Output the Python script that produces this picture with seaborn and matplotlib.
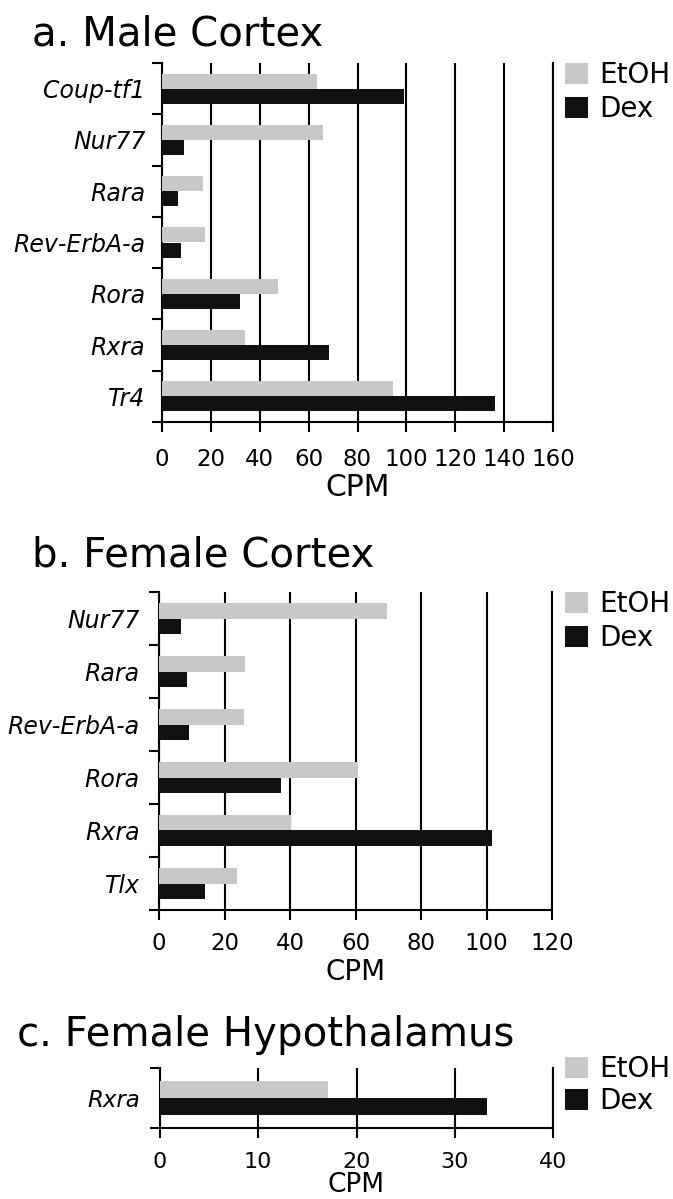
import numpy as np
import pandas as pd
import matplotlib
matplotlib.use("Agg")
import matplotlib.pyplot as plt
from matplotlib.ticker import FixedLocator
from matplotlib.patches import Patch
import seaborn as sns

# ---- data ----
treatments = ["EtOH", "Dex"]

genes_a = ["Coup-tf1", "Nur77", "Rara", "Rev-ErbA-a", "Rora", "Rxra", "Tr4"]
etoh_a = [63.4, 65.9, 16.8, 17.7, 47.4, 33.8, 94.7]
dex_a = [99.1, 9.2, 6.6, 7.6, 32.0, 68.3, 136.4]
ticks_a = [0, 20, 40, 60, 80, 100, 120, 140, 160]

genes_b = ["Nur77", "Rara", "Rev-ErbA-a", "Rora", "Rxra", "Tlx"]
etoh_b = [69.5, 26.4, 25.9, 60.7, 40.4, 23.9]
dex_b = [6.8, 8.7, 9.3, 37.1, 101.8, 13.9]
ticks_b = [0, 20, 40, 60, 80, 100, 120]

genes_c = ["Rxra"]
etoh_c = [17.1]
dex_c = [33.3]
ticks_c = [0, 10, 20, 30, 40]

titles = ["a. Male Cortex", "b. Female Cortex", "c. Female Hypothalamus"]
xlabel = "CPM"

colors = {"EtOH": "#c8c8c8", "Dex": "#111111"}

sns.set_theme(style="white")
plt.rcParams["font.family"] = ["DejaVu Sans"]
plt.rcParams["text.color"] = "black"
plt.rcParams["axes.labelcolor"] = "black"
plt.rcParams["xtick.color"] = "black"
plt.rcParams["ytick.color"] = "black"

W, H = 673, 1199
fig = plt.figure(figsize=(W / 100, H / 100), dpi=100)


def ax_px(left, top, right, bottom):
    return fig.add_axes([left / W, 1 - bottom / H, (right - left) / W, (bottom - top) / H])


def make_df(genes, etoh, dex):
    return pd.DataFrame({
        "gene": list(genes) * 2,
        "treatment": ["EtOH"] * len(genes) + ["Dex"] * len(genes),
        "cpm": list(etoh) + list(dex),
    })


def panel(ax, genes, etoh, dex, ticks, width, ylab_size, ylab_pad, xtick_size,
          xtick_pad, xlab_size, xlab_pad, leg_top, leg_space):
    df = make_df(genes, etoh, dex)
    sns.barplot(data=df, y="gene", x="cpm", hue="treatment", hue_order=treatments,
                palette=colors, orient="h", width=width, ax=ax, legend=False,
                saturation=1, edgecolor="none", linewidth=0)
    n = len(genes)
    ax.set_xlim(ticks[0], ticks[-1])
    ax.set_ylim(n - 0.5, -0.5)
    ax.set_xticks(ticks)
    ax.set_xticklabels([str(t) for t in ticks], fontsize=xtick_size, color="black")
    ax.set_yticks(range(n))
    ax.set_yticklabels(genes, fontsize=ylab_size, style="italic", color="black")
    ax.yaxis.set_minor_locator(FixedLocator(np.arange(-0.5, n, 1.0)))
    ax.tick_params(axis="y", which="major", length=0, pad=ylab_pad)
    ax.tick_params(axis="y", which="minor", length=7.5, width=1.5, color="black",
                   direction="out", left=True)
    ax.tick_params(axis="x", which="major", length=7, width=1.5, color="black",
                   direction="out", bottom=True, pad=xtick_pad)
    ax.xaxis.grid(True, color="black", linewidth=1.5)
    ax.yaxis.grid(False)
    ax.set_axisbelow(True)
    for s in ["left", "bottom", "right"]:
        ax.spines[s].set_visible(True)
        ax.spines[s].set_color("black")
        ax.spines[s].set_linewidth(1.5)
    ax.spines["top"].set_visible(False)
    ax.set_ylabel("")
    ax.set_xlabel(xlabel, fontsize=xlab_size, labelpad=xlab_pad, color="black")
    for p in ax.patches:
        p.set_zorder(3)
    handles = [Patch(facecolor=colors[t], edgecolor="none") for t in treatments]
    leg = ax.legend(handles, treatments, loc="upper left",
                    bbox_to_anchor=(565 / W, 1 - leg_top / H), bbox_transform=fig.transFigure,
                    frameon=False, fontsize=20, handlelength=0.83, handleheight=0.8,
                    handletextpad=0.4, labelspacing=leg_space, borderpad=0, borderaxespad=0)
    for t in leg.get_texts():
        t.set_color("black")


ax_a = ax_px(162, 63, 553, 422)
panel(ax_a, genes_a, etoh_a, dex_a, ticks_a, 0.59, 17, 12, 16.5, 12, 21.5, 1, 61, 0.22)
ax_b = ax_px(159, 592, 552, 910)
panel(ax_b, genes_b, etoh_b, dex_b, ticks_b, 0.58, 17, 14, 16.5, 8.5, 20, 2.5, 590, 0.22)
ax_c = ax_px(160, 1068, 553, 1128)
panel(ax_c, genes_c, etoh_c, dex_c, ticks_c, 0.57, 16.5, 14, 16, 10, 19, 0.5, 1055, 0.15)

fig.text(32 / W, 1 - 46 / H, titles[0], fontsize=29, ha="left", va="baseline", color="black")
fig.text(32 / W, 1 - 567 / H, titles[1], fontsize=29, ha="left", va="baseline", color="black")
fig.text(17 / W, 1 - 1046 / H, titles[2], fontsize=29, ha="left", va="baseline", color="black")

fig.savefig("out.png", dpi=100, facecolor="white")
